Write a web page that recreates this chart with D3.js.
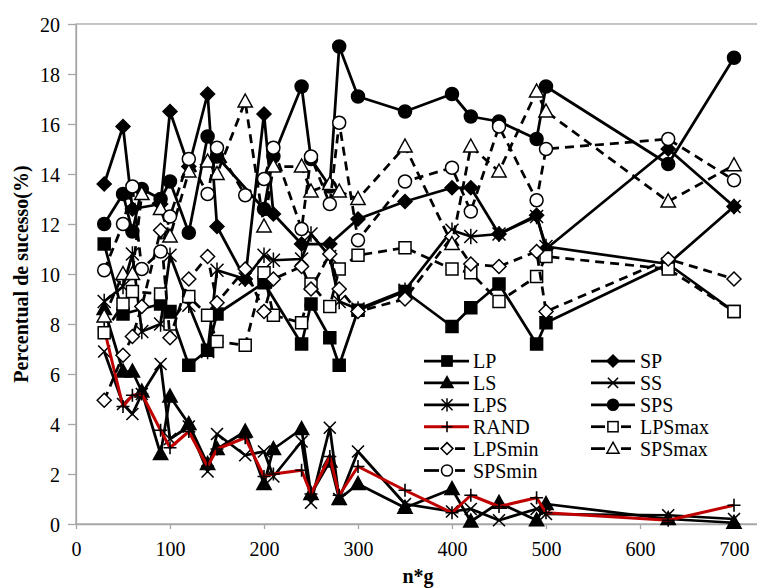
<!DOCTYPE html>
<html>
<head>
<meta charset="utf-8">
<script src="https://cdn.jsdelivr.net/npm/d3@7"></script>
<style>
  body { margin: 0; background: #fff; }
  svg { display: block; font-family: "Liberation Serif", "Times New Roman", serif; }
</style>
</head>
<body>
<div id="chart"></div>
<script>
// n*g values shared by all series
const ng = [30, 50, 60, 70, 90, 100, 120, 140, 150, 180, 200, 210, 240, 250, 270, 280, 300, 350, 400, 420, 450, 490, 500, 630, 700];

// success rate (%) per series, null = no point
const LP     = [11.2, 8.4, null, null, 8.8, 8.5, 6.35, 6.95, 8.4, null, 9.65, null, 7.2, 8.8, 7.45, 6.35, 8.55, 9.3, 7.9, 8.65, 9.6, 7.2, 8.05, 10.4, 8.5];
const SP     = [13.6, 15.9, 12.6, null, 12.8, 16.5, 14.3, 17.2, 11.9, 9.8, 16.4, 12.4, 11.2, null, 11.2, null, 12.2, 12.9, 13.45, 13.45, 11.6, 12.35, 11.0, 15.0, 12.7];
const LS     = [8.6, 6.1, 6.1, 5.3, 2.8, 5.1, 4.0, 2.4, 3.0, 3.7, 1.6, 3.0, 3.8, 1.2, 2.5, 1.0, 1.6, 0.65, 1.4, 0.1, 0.85, 0.15, 0.8, 0.2, 0.05];
const SS     = [6.9, 4.8, 4.4, 5.2, 6.4, 3.4, 3.9, 2.1, 3.6, 2.75, 2.9, 1.9, 3.3, 0.85, 3.85, 1.0, 2.9, 0.8, 0.5, 0.6, 0.15, 0.6, 0.4, 0.35, 0.2];
const LPS    = [8.9, 9.5, 10.8, 7.7, 8.0, 10.75, 8.75, 6.9, 10.15, 9.8, 10.75, 10.55, 10.6, 11.6, 10.7, 8.9, 8.6, 9.35, 11.75, 11.5, 11.6, 12.3, 11.1, 10.4, 12.7];
const SPS    = [12.0, 13.2, 11.7, 13.4, 13.0, 13.7, 11.65, 15.5, 14.7, null, 12.6, 14.7, 17.5, 14.6, 13.5, 19.1, 17.1, 16.5, 17.2, 16.3, 16.1, 15.4, 17.5, 14.4, 18.65];
const RAND   = [7.8, 4.7, 5.15, 5.2, 3.75, 3.05, 3.7, 2.3, 3.0, 3.45, 1.9, 2.0, 2.15, 1.2, 2.7, 1.15, 2.3, 1.35, 0.45, 1.15, 0.7, 1.05, 0.45, 0.15, 0.75];
const LPSmax = [7.65, 8.8, 9.3, null, 9.2, 8.0, 9.1, 8.35, 7.3, 7.15, 10.05, 8.35, 8.05, 9.6, 8.7, 10.2, 10.75, 11.05, 10.2, 10.05, 8.9, 9.9, 10.7, 10.2, 8.5];
const LPSmin = [4.95, 6.75, 7.5, 8.7, 11.75, 7.45, 9.8, 10.7, 8.85, 10.2, 8.5, 9.8, 10.3, 9.4, 10.8, 9.4, 8.5, 9.0, 11.5, 10.4, 10.3, 10.9, 8.5, 10.6, 9.8];
const SPSmax = [8.3, 10.0, 10.0, 13.2, 12.6, 11.5, 14.1, 14.5, 14.0, 16.9, 11.9, 14.3, 14.3, 13.3, 13.6, 13.3, 13.0, 15.1, 11.2, 15.1, 14.1, 17.3, 16.5, 12.9, 14.35];
const SPSmin = [10.15, 12.0, 13.5, 10.2, 10.9, 12.3, 14.6, 13.2, 15.05, 13.15, 13.8, 15.05, 11.8, 14.7, 12.8, 16.05, 11.35, 13.7, 14.25, 12.5, 15.9, 12.95, 15.0, 15.4, 13.75];

const xTicks = [0, 100, 200, 300, 400, 500, 600, 700];
const yTicks = [0, 2, 4, 6, 8, 10, 12, 14, 16, 18, 20];

// draw order = Excel series order
const series = [
  { name: "LP", values: LP, marker: "square", open: false, dash: false },
  { name: "SP", values: SP, marker: "diamond", open: false, dash: false },
  { name: "LS", values: LS, marker: "triangle", open: false, dash: false },
  { name: "SS", values: SS, marker: "x", open: false, dash: false },
  { name: "LPS", values: LPS, marker: "star", open: false, dash: false },
  { name: "SPS", values: SPS, marker: "circle", open: false, dash: false },
  { name: "RAND", values: RAND, marker: "plus", open: false, dash: false, red: true },
  { name: "LPSmax", values: LPSmax, marker: "square", open: true, dash: true },
  { name: "LPSmin", values: LPSmin, marker: "diamond", open: true, dash: true },
  { name: "SPSmax", values: SPSmax, marker: "triangle", open: true, dash: true },
  { name: "SPSmin", values: SPSmin, marker: "circle", open: true, dash: true }
];

const width = 757, height = 588;
const margin = { left: 76, top: 24, bottom: 64 };
const plotRight = 828; // plot area (0..800) runs past the image edge

const chart = d3.select("#chart").append("svg")
  .attr("width", width).attr("height", height);

const scaleX = d3.scaleLinear().domain([0, 800]).range([margin.left, plotRight]);
const scaleY = d3.scaleLinear().domain([0, 20]).range([height - margin.bottom, margin.top]);

const axisGrey = "#a6a6a6";
const red = "#c00000";

//#region Frame and axes
chart.append("rect")
  .attr("x", margin.left).attr("y", margin.top)
  .attr("width", plotRight - margin.left)
  .attr("height", scaleY(0) - margin.top)
  .attr("fill", "none").attr("stroke", axisGrey).attr("stroke-width", 1.3);

const axisX = d3.axisBottom(scaleX).tickValues(xTicks).tickSize(5).tickSizeOuter(0);
const axisY = d3.axisLeft(scaleY).tickValues(yTicks).tickSize(8).tickSizeOuter(0);

const gx = chart.append("g")
  .attr("transform", `translate(0,${scaleY(0)})`)
  .call(axisX);
const gy = chart.append("g")
  .attr("transform", `translate(${margin.left},0)`)
  .call(axisY);

[gx, gy].forEach(g => {
  g.select(".domain").attr("stroke", axisGrey).attr("stroke-width", 1.3);
  g.selectAll(".tick line").attr("stroke", axisGrey).attr("stroke-width", 1.3);
  g.selectAll(".tick text")
    .attr("fill", "#000")
    .style("font-family", "Liberation Serif")
    .style("font-size", "20px");
});
gx.selectAll(".tick text").attr("y", 18).attr("dy", "0.71em");
gy.selectAll(".tick text").attr("x", -16).attr("dy", "0.35em");

chart.append("text")
  .text("Percentual de sucesso(%)")
  .attr("transform", `translate(28,${(scaleY(0) + scaleY(20)) / 2}) rotate(-90)`)
  .attr("text-anchor", "middle")
  .style("font-weight", "bold").style("font-size", "20px");

chart.append("text")
  .text("n*g")
  .attr("x", 418).attr("y", 583)
  .attr("text-anchor", "middle")
  .style("font-weight", "bold").style("font-size", "20px");
//#endregion

//#region Markers
function drawMarker(g, s, k = 1) {
  const fill = s.open ? "#fff" : "#000";
  switch (s.marker) {
    case "square":
      g.append("rect").attr("x", -6 * k).attr("y", -6 * k)
        .attr("width", 12 * k).attr("height", 12 * k)
        .attr("fill", fill).attr("stroke", "#000").attr("stroke-width", 1.5);
      break;
    case "diamond": {
      const r = 7 * k;
      g.append("path").attr("d", `M0,${-r}L${r},0L0,${r}L${-r},0Z`)
        .attr("fill", fill).attr("stroke", "#000").attr("stroke-width", 1.5);
      break;
    }
    case "triangle": {
      const r = 7.5 * k;
      g.append("path").attr("d", `M0,${-r}L${r * 0.95},${r * 0.72}L${-r * 0.95},${r * 0.72}Z`)
        .attr("fill", fill).attr("stroke", "#000").attr("stroke-width", 1.5);
      break;
    }
    case "circle":
      g.append("circle").attr("r", 6.5 * k)
        .attr("fill", fill).attr("stroke", "#000").attr("stroke-width", 1.5);
      break;
    case "x": {
      const r = 6 * k;
      g.append("path").attr("d", `M${-r},${-r}L${r},${r}M${-r},${r}L${r},${-r}`)
        .attr("stroke", "#000").attr("stroke-width", 1.6);
      break;
    }
    case "plus": {
      const r = 6.5 * k;
      g.append("path").attr("d", `M${-r},0L${r},0M0,${-r}L0,${r}`)
        .attr("stroke", "#000").attr("stroke-width", 1.6);
      break;
    }
    case "star": {
      const r = 6.5 * k;
      g.append("path")
        .attr("d", `M${-r},${-r}L${r},${r}M${-r},${r}L${r},${-r}M0,${-r * 1.2}L0,${r * 1.2}`)
        .attr("stroke", "#000").attr("stroke-width", 1.5);
      break;
    }
  }
}
//#endregion

//#region Series lines and points
const line = d3.line()
  .x(d => scaleX(d.x))
  .y(d => scaleY(d.y));

series.forEach(s => {
  const pts = ng.map((x, i) => ({ x, y: s.values[i] })).filter(d => d.y !== null);
  const g = chart.append("g").attr("class", "series");
  g.append("path")
    .datum(pts)
    .attr("d", line)
    .attr("fill", "none")
    .attr("stroke", s.red ? red : "#000")
    .attr("stroke-width", s.red ? 3 : 2.75)
    .attr("stroke-linejoin", "round")
    .attr("stroke-dasharray", s.dash ? "9,6" : null);
  g.selectAll("g.pt")
    .data(pts)
    .enter()
    .append("g")
    .attr("class", "pt")
    .attr("transform", d => `translate(${scaleX(d.x)},${scaleY(d.y)})`)
    .each(function () { drawMarker(d3.select(this), s); });
});
//#endregion

//#region Legend
const legendCols = [
  ["LP", "LS", "LPS", "RAND", "LPSmin", "SPSmin"],
  ["SP", "SS", "SPS", "LPSmax", "SPSmax"]
];
const colX = [{ x0: 424, x1: 469, m: 447, t: 473 }, { x0: 591, x1: 635, m: 613, t: 640 }];
const legend = chart.append("g").attr("id", "legend");

legendCols.forEach((names, c) => {
  names.forEach((name, r) => {
    const s = series.find(d => d.name === name);
    const y = 361 + r * 21.9;
    const item = legend.append("g").attr("transform", `translate(0,${y})`);
    if (s.dash) {
      item.append("line").attr("x1", colX[c].x0).attr("x2", colX[c].m - 8)
        .attr("stroke", "#000").attr("stroke-width", 2.75);
      item.append("line").attr("x1", colX[c].m + 8).attr("x2", colX[c].x1 - 4)
        .attr("stroke", "#000").attr("stroke-width", 2.75);
    } else {
      item.append("line").attr("x1", colX[c].x0).attr("x2", colX[c].x1)
        .attr("stroke", s.red ? red : "#000").attr("stroke-width", s.red ? 3 : 2.75);
    }
    const mk = item.append("g").attr("transform", `translate(${colX[c].m},0)`);
    drawMarker(mk, s, 0.85);
    item.append("text")
      .text(name)
      .attr("x", colX[c].t)
      .attr("dy", "0.35em")
      .style("font-size", "20px");
  });
});
//#endregion
</script>
</body>
</html>
